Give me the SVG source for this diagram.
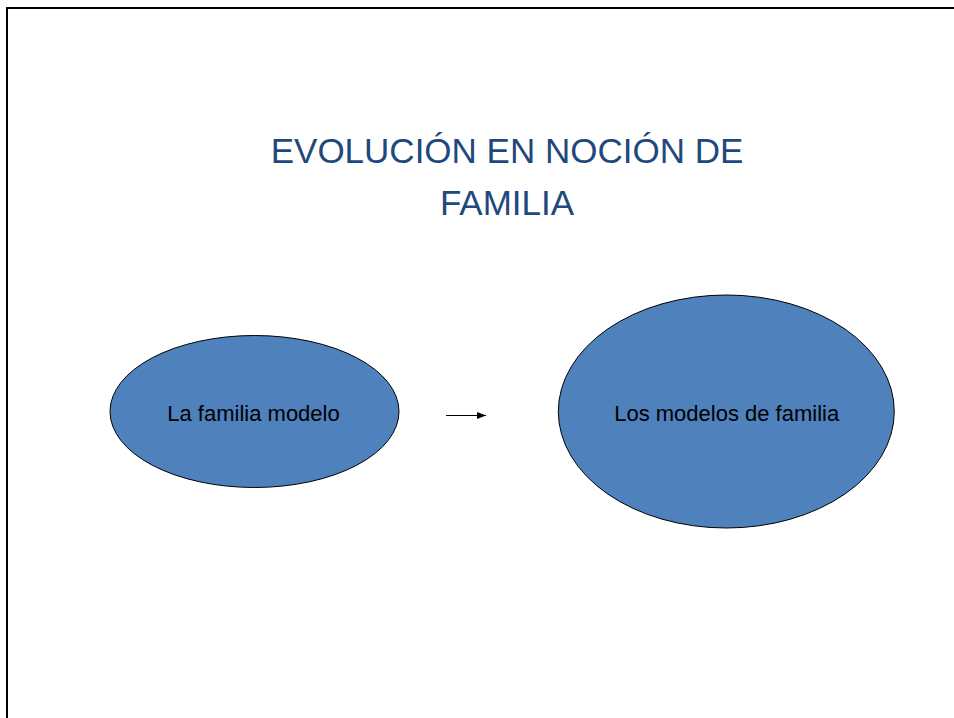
<svg xmlns="http://www.w3.org/2000/svg" width="954" height="718" viewBox="0 0 954 718">
<style>
.title{font-family:"Liberation Sans",Arial,sans-serif;font-size:35px;fill:#1F497D;text-anchor:middle}
.node ellipse{fill:#4F81BD;stroke:#000;stroke-width:1}
.node text{font-family:"Liberation Sans",Arial,sans-serif;font-size:22px;fill:#000;text-anchor:middle}
.frame{stroke:#000;stroke-width:2;fill:none}
</style>
<defs>
<marker id="ah" markerWidth="9" markerHeight="7" refX="9" refY="3.5" orient="auto" markerUnits="userSpaceOnUse">
<path d="M0,0 L9,3.5 L0,7 Z" fill="#000"/>
</marker>
</defs>
<rect width="954" height="718" fill="#fff"/>
<path class="frame" d="M7,718 V8 H954"/>
<g id="title">
<text class="title" x="507" y="163">EVOLUCIÓN EN NOCIÓN DE</text>
<text class="title" x="507" y="215">FAMILIA</text>
</g>
<g id="node1" class="node">
<ellipse cx="254.5" cy="411.5" rx="144.5" ry="76"/>
<text x="253.5" y="420.5">La familia modelo</text>
</g>
<g id="node2" class="node">
<ellipse cx="726.3" cy="411.5" rx="168" ry="116.5"/>
<text x="726.7" y="420.5">Los modelos de familia</text>
</g>
<g id="connectors">
<line x1="446" y1="415.5" x2="486" y2="415.5" stroke="#000" stroke-width="1" marker-end="url(#ah)"/>
</g>
</svg>
